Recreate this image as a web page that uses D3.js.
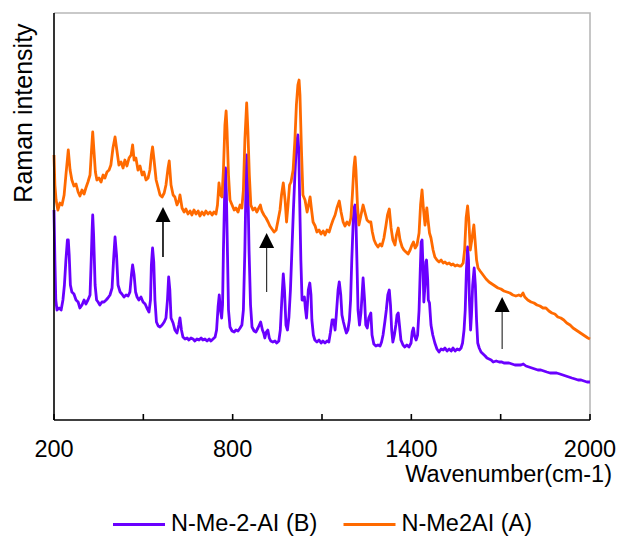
<!DOCTYPE html>
<html>
<head>
<meta charset="utf-8">
<script src="https://cdn.jsdelivr.net/npm/d3@7"></script>
<style>
  html, body { margin: 0; padding: 0; background: #fff; }
  svg { display: block; }
  text { font-family: "Liberation Sans", Arial, sans-serif; fill: #000; }
</style>
</head>
<body>
<div id="chart"></div>
<script>
// Raman spectra: [wavenumber (cm-1), intensity (arb. units)]
const specA = [
  [200,265],[203,235],[207,220],[213,210],[220,217],[227,215],[234,225],[240,245],[248,270],[254,250],
  [260,240],[267,234],[274,236],[281,228],[287,224],[294,230],[301,226],[307,232],[314,238],[321,245],
  [326,270],[330,288],[334,270],[339,248],[344,240],[351,242],[358,238],[365,245],[371,242],[378,248],
  [385,250],[391,255],[398,272],[405,283],[411,270],[418,255],[425,258],[432,252],[438,260],[445,254],
  [452,262],[459,265],[464,275],[469,260],[475,262],[482,250],[489,254],[496,245],[502,248],[509,240],
  [516,242],[522,250],[527,265],[531,273],[536,260],[543,240],[550,232],[556,225],[563,223],[570,227],
  [576,235],[583,252],[587,259],[593,235],[600,225],[606,223],[613,215],[620,220],[623,225],[630,212],
  [637,208],[643,211],[650,206],[657,209],[663,205],[670,210],[677,206],[684,209],[690,204],[697,208],
  [704,205],[710,209],[717,206],[724,208],[731,205],[737,208],[744,206],[749,215],[754,237],[759,225],
  [764,223],[769,250],[774,295],[778,309],[781,290],[786,245],[791,220],[798,215],[805,210],[811,212],
  [818,208],[825,215],[831,212],[836,230],[841,280],[847,317],[851,290],[856,245],[861,215],[868,210],
  [875,212],[881,208],[888,212],[893,215],[898,209],[905,205],[912,202],[919,198],[925,194],[932,191],
  [939,188],[946,190],[952,199],[959,210],[964,225],[970,237],[976,220],[981,198],[986,215],[991,235],
  [996,238],[1003,250],[1009,280],[1014,315],[1019,335],[1023,340],[1026,325],[1031,270],[1036,225],[1043,220],
  [1050,208],[1055,215],[1060,223],[1065,210],[1070,198],[1077,194],[1083,188],[1090,190],[1097,186],[1104,189],
  [1110,185],[1117,190],[1124,188],[1130,194],[1137,200],[1144,205],[1150,212],[1158,219],[1164,208],[1171,198],
  [1177,194],[1184,198],[1191,195],[1197,202],[1202,225],[1207,252],[1211,263],[1214,250],[1219,215],[1224,195],
  [1231,205],[1238,215],[1244,208],[1251,200],[1258,198],[1264,198],[1269,188],[1275,180],[1281,176],[1288,173],
  [1295,176],[1301,174],[1308,182],[1315,195],[1320,205],[1326,211],[1332,192],[1338,180],[1345,175],[1350,185],
  [1356,192],[1362,180],[1369,173],[1375,170],[1382,168],[1389,166],[1396,170],[1402,175],[1407,178],[1413,172],
  [1419,175],[1426,187],[1431,215],[1436,230],[1441,210],[1446,195],[1452,212],[1456,200],[1461,187],[1466,182],
  [1473,170],[1479,163],[1486,160],[1493,158],[1500,160],[1507,157],[1513,158],[1520,156],[1527,157],[1534,155],
  [1540,156],[1547,154],[1554,155],[1561,154],[1567,154],[1574,157],[1579,170],[1584,202],[1589,214],[1593,200],
  [1598,170],[1603,180],[1610,195],[1614,180],[1619,160],[1624,152],[1631,149],[1641,145],[1651,141],[1661,138],
  [1671,136],[1681,134],[1691,132],[1701,131],[1711,129],[1721,128],[1731,127],[1741,125],[1751,124],[1761,125],
  [1768,124],[1775,127],[1781,123],[1791,120],[1802,118],[1812,117],[1822,115],[1832,114],[1842,112],[1852,112],
  [1862,109],[1872,107],[1882,106],[1892,103],[1902,102],[1912,100],[1922,97],[1933,95],[1943,92],[1953,90],
  [1963,88],[1973,86],[1983,84],[1993,82],[2000,81]
];

const specB = [
  [200,210],[203,160],[206,120],[210,110],[217,112],[224,110],[230,120],[235,135],[240,160],[245,180],
  [248,180],[251,165],[255,135],[260,128],[267,126],[274,120],[281,118],[287,112],[294,115],[301,120],
  [307,116],[314,120],[321,125],[325,160],[328,190],[330,205],[333,185],[338,135],[343,120],[348,118],
  [354,115],[361,118],[368,118],[375,120],[381,122],[388,125],[395,132],[400,160],[405,183],[410,165],
  [415,135],[422,128],[428,126],[435,123],[442,125],[449,124],[455,128],[460,145],[464,155],[469,145],
  [474,128],[479,123],[485,120],[492,123],[499,118],[506,116],[512,112],[519,108],[524,120],[527,155],
  [531,172],[535,158],[539,120],[544,98],[550,94],[556,93],[563,95],[570,98],[576,102],[581,120],
  [585,143],[589,130],[593,102],[600,97],[606,90],[613,87],[619,95],[623,102],[628,90],[633,83],
  [640,81],[647,82],[653,80],[660,82],[667,81],[673,79],[680,81],[687,80],[694,82],[700,80],
  [707,81],[714,79],[721,81],[727,79],[734,81],[741,83],[746,90],[751,113],[755,125],[759,110],
  [763,102],[766,115],[769,170],[773,225],[776,252],[779,225],[783,160],[786,110],[791,93],[798,89],
  [805,88],[811,90],[818,89],[825,92],[831,95],[836,110],[841,170],[845,240],[847,265],[851,235],
  [855,170],[860,115],[865,93],[872,89],[878,88],[885,92],[894,98],[900,90],[904,87],[908,82],
  [913,88],[918,90],[923,82],[928,79],[935,78],[942,79],[948,77],[955,79],[960,90],[965,120],
  [970,146],[974,130],[979,95],[984,90],[989,103],[994,130],[999,170],[1004,210],[1009,245],[1014,275],
  [1019,285],[1022,270],[1025,220],[1029,160],[1033,120],[1036,120],[1041,123],[1044,112],[1048,102],[1051,115],
  [1054,130],[1059,137],[1063,125],[1066,100],[1071,85],[1076,80],[1083,78],[1090,80],[1097,77],[1103,79],
  [1110,77],[1117,79],[1123,78],[1128,87],[1134,100],[1139,100],[1144,90],[1148,105],[1154,130],[1158,138],
  [1163,125],[1167,105],[1172,98],[1177,92],[1182,87],[1187,90],[1192,100],[1196,120],[1200,160],[1205,200],
  [1208,212],[1211,215],[1214,200],[1218,150],[1221,110],[1226,95],[1231,108],[1238,142],[1243,120],[1247,95],
  [1252,92],[1257,102],[1264,107],[1268,85],[1274,76],[1281,74],[1288,75],[1295,74],[1300,78],[1305,85],
  [1311,98],[1316,110],[1321,125],[1326,130],[1330,115],[1334,90],[1338,78],[1343,85],[1348,95],[1352,105],
  [1356,107],[1360,95],[1365,80],[1372,75],[1378,73],[1385,75],[1392,73],[1399,77],[1403,88],[1407,92],
  [1411,84],[1416,80],[1421,85],[1426,110],[1430,150],[1433,178],[1436,180],[1439,155],[1442,118],[1446,135],
  [1449,158],[1451,160],[1455,140],[1457,120],[1461,117],[1466,95],[1472,85],[1479,77],[1486,71],[1493,68],
  [1500,71],[1507,70],[1513,72],[1520,69],[1527,71],[1534,69],[1540,72],[1547,69],[1554,71],[1561,70],
  [1567,72],[1572,77],[1577,90],[1581,110],[1585,150],[1589,173],[1592,160],[1595,120],[1599,90],[1602,105],
  [1606,135],[1611,152],[1615,135],[1619,100],[1623,77],[1628,72],[1634,68],[1641,66],[1648,64],[1654,62],
  [1661,61],[1668,60],[1675,58],[1685,59],[1695,58],[1704,58],[1711,57],[1720,57],[1728,57],[1738,56],
  [1748,55],[1758,55],[1768,55],[1776,56],[1785,54],[1795,53],[1805,52],[1815,51],[1825,50],[1835,50],
  [1845,49],[1855,48],[1866,47],[1876,47],[1888,47],[1899,46],[1909,45],[1919,44],[1929,43],[1939,42],
  [1950,41],[1960,40],[1970,40],[1980,39],[1990,38],[2000,38]
];

const seriesNames = ["N-Me-2-AI (B)", "N-Me2AI (A)"];
const seriesColors = ["#6a00ff", "#ff6a00"];
const xTicks = [200, 500, 800, 1100, 1400, 1700, 2000];
const xTickLabels = [200, 800, 1400, 2000];
// arrows: [wavenumber, head intensity, tail intensity]
const arrows = [[566, 213, 163], [914, 187, 128], [1705, 123, 71]];

const W = 619, H = 537;
const svg = d3.select("#chart").append("svg").attr("width", W).attr("height", H);

const x = d3.scaleLinear().domain([200, 2000]).range([54, 590]);
const y = d3.scaleLinear().domain([0, 407]).range([420, 13]);

// plot frame (top and right)
svg.append("path")
  .attr("d", `M${x(200)},${y(407)}H${x(2000)}V${y(0)}`)
  .attr("fill", "none").attr("stroke", "#b8b8b8").attr("stroke-width", 1.6);

const line = d3.line().x(d => x(d[0])).y(d => y(d[1]));

[specB, specA].forEach((s, i) => {
  svg.append("path").datum(s)
    .attr("d", line)
    .attr("fill", "none")
    .attr("stroke", seriesColors[i])
    .attr("stroke-width", 2.8)
    .attr("stroke-linejoin", "round");
});

// axes
svg.append("line").attr("x1", x(200)).attr("x2", x(200)).attr("y1", y(407)).attr("y2", y(0))
  .attr("stroke", "#000").attr("stroke-width", 1.6);
svg.append("line").attr("x1", x(200)).attr("x2", x(2000)).attr("y1", y(0)).attr("y2", y(0))
  .attr("stroke", "#000").attr("stroke-width", 1.6);
svg.selectAll(".tick").data(xTicks).enter().append("line")
  .attr("x1", d => x(d)).attr("x2", d => x(d))
  .attr("y1", y(0)).attr("y2", y(0) - 6)
  .attr("stroke", "#000").attr("stroke-width", 1.6);
svg.selectAll(".tlab").data(xTickLabels).enter().append("text")
  .attr("x", d => x(d)).attr("y", 457)
  .attr("text-anchor", "middle").attr("font-size", 23.5)
  .text(d => d);

svg.append("text").attr("x", 612).attr("y", 482).attr("text-anchor", "end")
  .attr("font-size", 23.5).text("Wavenumber(cm-1)");

svg.append("text").attr("transform", "translate(32,113) rotate(-90)")
  .attr("text-anchor", "middle").attr("font-size", 25).text("Raman intensity");

// arrows
arrows.forEach((a, i) => {
  const ax = x(a[0]), tip = y(a[1]), tail = y(a[2]);
  svg.append("line").attr("x1", ax).attr("x2", ax).attr("y1", tip + 12).attr("y2", tail)
    .attr("stroke", i === 0 ? "#000" : "#333").attr("stroke-width", i === 0 ? 1.6 : 1.2);
  svg.append("path")
    .attr("d", `M${ax},${tip}L${ax - 7.5},${tip + 15}L${ax + 7.5},${tip + 15}Z`)
    .attr("fill", "#000");
});

// legend
const legX = [113, 343.5];
seriesNames.forEach((n, i) => {
  svg.append("line").attr("x1", legX[i]).attr("x2", legX[i] + 52)
    .attr("y1", 524.5).attr("y2", 524.5)
    .attr("stroke", seriesColors[i]).attr("stroke-width", 2.8);
  svg.append("text").attr("x", legX[i] + 58).attr("y", 531)
    .attr("font-size", 23.5).text(n);
});
</script>
</body>
</html>
